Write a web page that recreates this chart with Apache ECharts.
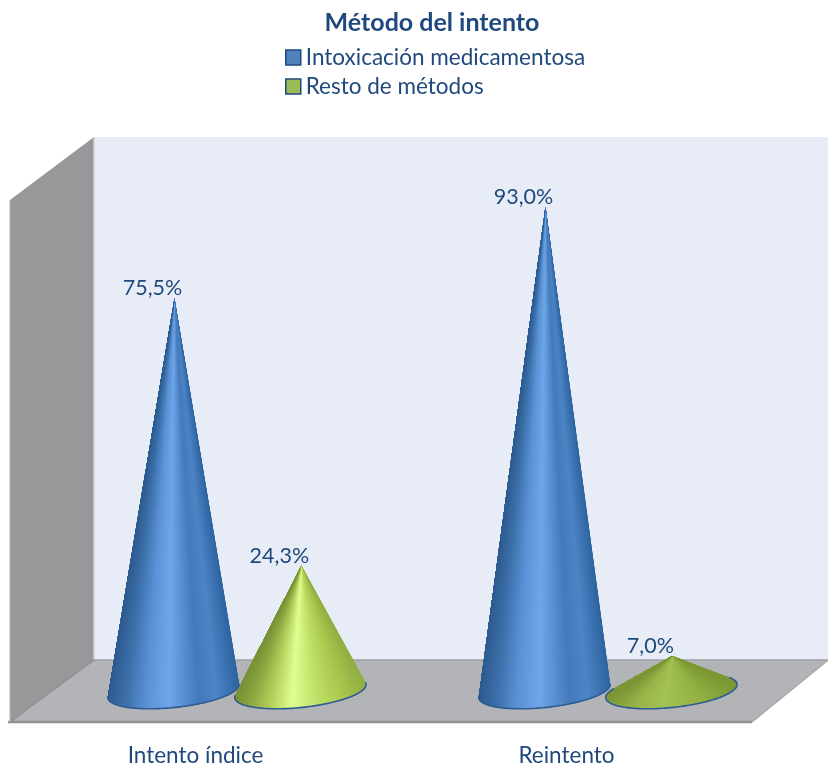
<!DOCTYPE html>
<html>
<head>
<meta charset="utf-8">
<style>html,body{margin:0;padding:0;background:#fff}#c{width:828px;height:767px}</style>
<script src="https://cdn.jsdelivr.net/npm/echarts@6/dist/echarts.min.js"></script>
</head>
<body>
<div id="c"></div>
<script>
var categories = ['Intento índice', 'Reintento'];
var seriesNames = ['Intoxicación medicamentosa', 'Resto de métodos'];
var medicamentosa = [75.5, 93.0];
var restoMetodos = [24.3, 7.0];

var FONT = 'Lato, "Open Sans", sans-serif';
var INK = '#1f497d';
var DEPTH = 42;

var blueStops = [[0,[46,100,160]],[0.18,[76,132,198]],[0.32,[68,122,188]],[0.55,[110,166,232]],[0.72,[90,146,214]],[0.88,[60,112,170]],[1,[46,92,144]]];
var greenStops = [[0,[146,174,66]],[0.2,[172,202,80]],[0.36,[188,220,100]],[0.58,[224,254,146]],[0.74,[180,210,92]],[0.9,[140,166,64]],[1,[122,146,56]]];
var flatStops = [[0,[124,152,52]],[0.3,[150,180,70]],[0.58,[164,194,84]],[0.8,[152,180,72]],[1,[124,150,54]]];

function mix(stops, s) {
  s = Math.max(0, Math.min(1, s));
  for (var i = 1; i < stops.length; i++) {
    if (s <= stops[i][0]) {
      var a = stops[i-1], b = stops[i], k = (s - a[0]) / (b[0] - a[0]);
      return 'rgb(' + [0,1,2].map(function (j) { return Math.round(a[1][j] + (b[1][j] - a[1][j]) * k); }).join(',') + ')';
    }
  }
  return 'rgb(' + stops[stops.length-1][1].join(',') + ')';
}

function coneRenderer(shift, stops, flat) {
  return function (params, api) {
    var v = api.value(1);
    var apexPt = api.coord([api.value(0), v]);
    var basePt = api.coord([api.value(0), 0]);
    var band = api.size([1, 0])[0];
    var cx = basePt[0] + DEPTH + shift * band;
    var cy = basePt[1] - 1.5;
    var ax = cx + 1, ay = apexPt[1];
    var a = band * 0.178, b = 16.5, phi = -6 * Math.PI / 180;
    var cp = Math.cos(phi), sp = Math.sin(phi);
    var N = 96, children = [], arc = [];
    var st = (flat && v < 10) ? flat : stops;
    function P(t) {
      var ex = a * Math.cos(t), ey = b * Math.sin(t);
      return [cx + ex * cp - ey * sp, cy + ex * sp + ey * cp];
    }
    // tangent points of the apex on the tilted base ellipse
    var dx = ax - cx, dy = ay - cy;
    var lx = (dx * cp + dy * sp) / a, ly = (-dx * sp + dy * cp) / b;
    var d = Math.sqrt(lx * lx + ly * ly), al = Math.atan2(ly, lx), be = Math.acos(1 / d);
    var tR = al + be, tL = al - be + 2 * Math.PI;
    var ts = [];
    for (var i = 0; i <= N; i++) {
      ts.push(tL + (tR - tL) * i / N);
      arc.push(P(ts[i]));
    }
    for (i = N - 1; i >= 0; i--) {
      var col = mix(st, (1 - Math.cos((ts[i] + ts[i+1]) / 2)) / 2);
      var pts = [[ax, ay]].concat(arc.slice(0, i + 2));
      children.push({ type: 'polygon', shape: { points: pts }, style: { fill: col } });
    }
    children.push({
      type: 'polyline',
      shape: { points: arc },
      style: { fill: null, stroke: '#2f5c92', lineWidth: 1.6 }
    });
    children.push({
      type: 'text',
      style: {
        text: v.toFixed(1).replace('.', ',') + '%',
        x: ax - 22, y: ay - 10,
        align: 'center', verticalAlign: 'middle',
        font: '21.5px ' + FONT, fill: INK
      }
    });
    return { type: 'group', children: children };
  };
}

function poly(pts, fill, z) {
  return { type: 'polygon', silent: true, z: z || 0, shape: { points: pts }, style: { fill: fill } };
}
function line(x1, y1, x2, y2, col, w) {
  return { type: 'line', silent: true, z: 1, shape: { x1: x1, y1: y1, x2: x2, y2: y2 }, style: { stroke: col, lineWidth: w } };
}

var chart = echarts.init(document.getElementById('c'), null, { renderer: 'canvas' });
chart.setOption({
  animation: false,
  backgroundColor: '#ffffff',
  title: {
    text: 'Método del intento',
    left: 427, top: 5, textAlign: 'center',
    textStyle: { color: INK, fontFamily: FONT, fontSize: 25, fontWeight: 'bold' }
  },
  legend: {
    orient: 'vertical', left: 280, top: 41, itemWidth: 15, itemHeight: 15, itemGap: 6,
    textStyle: { color: INK, fontFamily: FONT, fontSize: 22.5, lineHeight: 22 },
    data: [
      { name: seriesNames[0], icon: 'rect', itemStyle: { color: '#4f81bd', borderColor: INK, borderWidth: 1.5 } },
      { name: seriesNames[1], icon: 'rect', itemStyle: { color: '#9bbb59', borderColor: INK, borderWidth: 1.5 } }
    ]
  },
  grid: { left: 10, width: 742, top: 170.5, height: 522 },
  xAxis: {
    type: 'category', data: categories,
    axisLine: { show: false }, axisTick: { show: false }, splitLine: { show: false },
    axisLabel: { color: INK, fontFamily: FONT, fontSize: 22.5, margin: 51.5 }
  },
  yAxis: { type: 'value', min: 0, max: 100, show: false, splitLine: { show: false } },
  graphic: { elements: [
    poly([[94,137],[828,137],[828,660],[94,660]], '#e8ecf6'),
    poly([[10,200],[94,137],[94,660],[10,722]], '#98989a'),
    poly([[10,722],[94,660],[828,660],[752,722]], '#b3b4b7'),
    line(94,137,94,660,'#cdd0d6',1.5),
    line(94,660,828,660,'#a0a1a4',1.5),
    line(8,722,752,722,'#909193',2.5),
    line(752,722,828,660,'#a6a7aa',1.5),
    line(10,722,94,660,'#8d8e90',1.2),
    line(10,200,10,722,'#b4b5b7',1)
  ] },
  series: [
    { name: seriesNames[0], type: 'custom', coordinateSystem: 'cartesian2d', clip: false, z: 3,
      itemStyle: { color: '#4f81bd' },
      renderItem: coneRenderer(-0.1725, blueStops),
      encode: { x: 0, y: 1 },
      data: medicamentosa.map(function (v, i) { return [i, v]; }) },
    { name: seriesNames[1], type: 'custom', coordinateSystem: 'cartesian2d', clip: false, z: 4,
      itemStyle: { color: '#9bbb59' },
      renderItem: coneRenderer(0.1695, greenStops, flatStops),
      encode: { x: 0, y: 1 },
      data: restoMetodos.map(function (v, i) { return [i, v]; }) }
  ]
});
</script>
</body>
</html>
